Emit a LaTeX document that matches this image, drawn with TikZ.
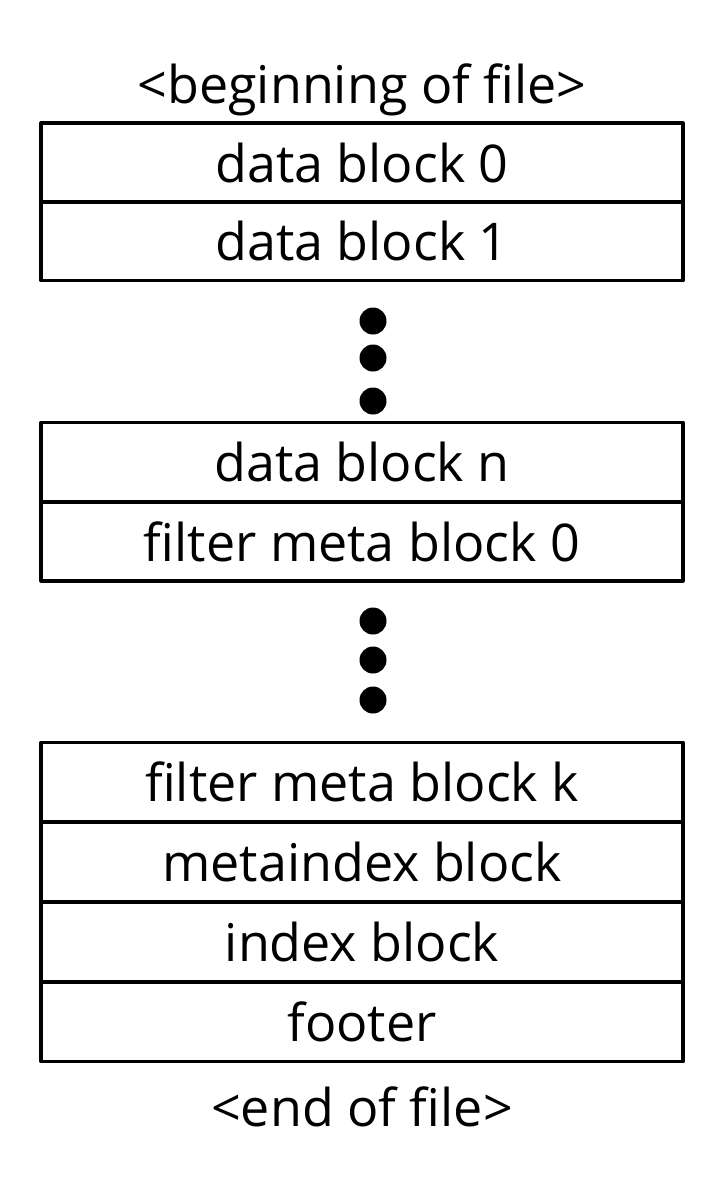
\documentclass[tikz,border=0pt]{standalone}
\usepackage{fontspec}
\setmainfont{Open Sans}
\begin{document}
\begin{tikzpicture}[x=1pt,y=-1pt,
  blk/.style={draw=black,line width=3.2pt,line join=round,minimum width=642pt,minimum height=79pt,inner sep=0pt,
    font=\fontsize{52}{60}\selectfont},
  lbl/.style={font=\fontsize{52}{60}\selectfont,inner sep=0pt},
  dot/.style={circle,fill=black,minimum size=27pt,inner sep=0pt}]
\useasboundingbox (0,0) rectangle (724,1184);
\node[lbl] (bof) at (362,90) {<beginning of file>};
\node[blk] (d0) at (362,162.5) {data block 0};
\node[blk] (d1) at (362,241) {data block 1};
\node[dot] (p1) at (373,321) {};
\node[dot] (p2) at (373,358) {};
\node[dot] (p3) at (373,401) {};
\node[blk] (dn) at (362,462) {data block n};
\node[blk] (f0) at (362,541.5) {filter meta block 0};
\node[dot] (q1) at (373,621) {};
\node[dot] (q2) at (373,660) {};
\node[dot] (q3) at (373,700) {};
\node[blk] (fk) at (362,782) {filter meta block k};
\node[blk] (mi) at (362,862) {metaindex block};
\node[blk] (ix) at (362,942) {index block};
\node[blk] (ft) at (362,1022) {footer};
\node[lbl] (eof) at (362,1107) {<end of file>};
\end{tikzpicture}
\end{document}
